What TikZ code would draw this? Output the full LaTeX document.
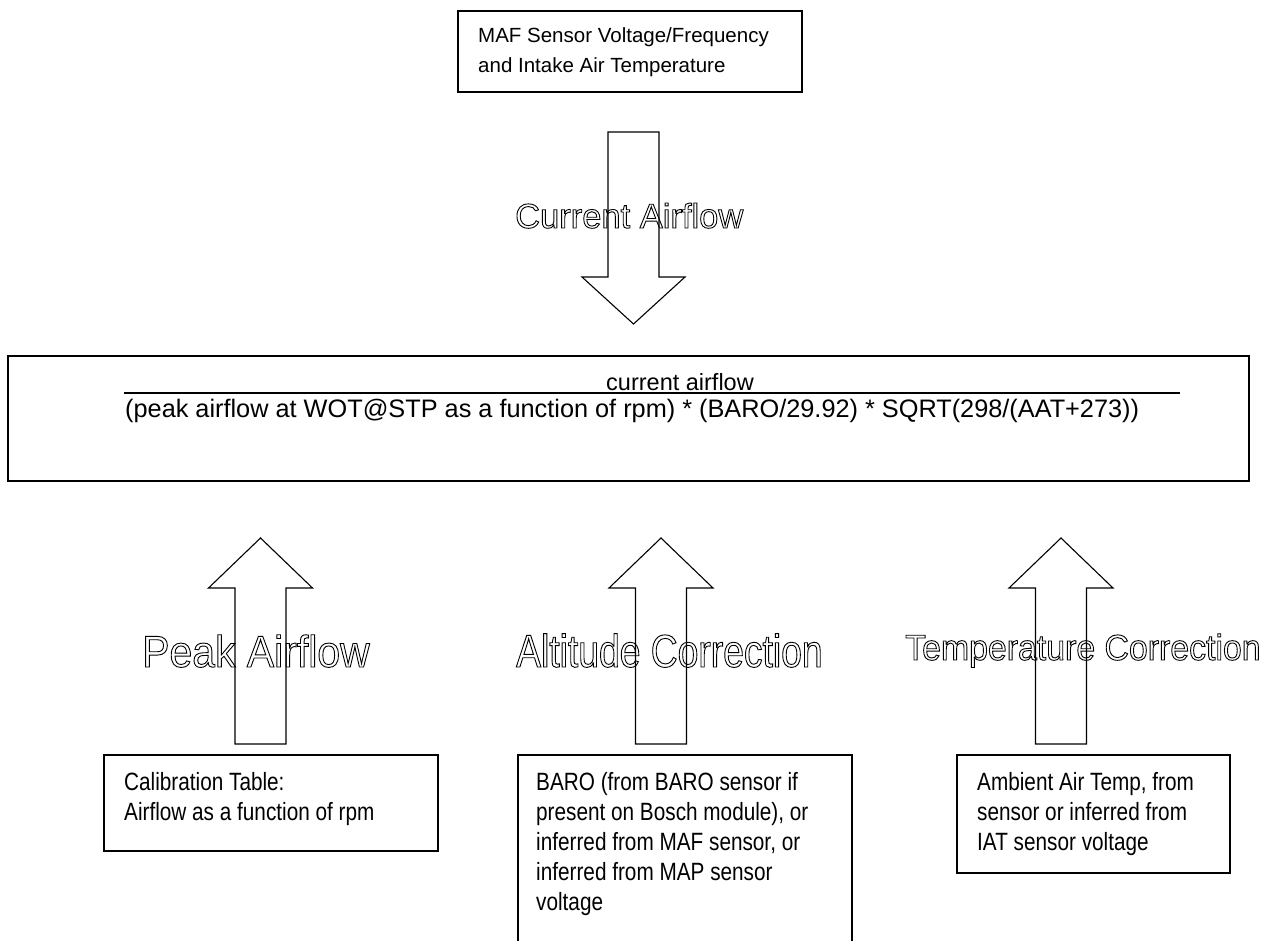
\documentclass[tikz,border=0pt]{standalone}
\usepackage{fontspec}
\setmainfont{Liberation Sans}
\newfontfamily\narrowfont{Liberation Sans}[FakeStretch=0.83]
% outlined (stroked) letters
\newcommand{\hollow}[1]{\special{pdf:literal direct 1 Tr 0.9 w}#1\special{pdf:literal direct 0 Tr}}

\tikzset{
  box/.style={draw, line width=1.6pt, inner sep=0pt},
  blockarrow/.style={draw, line width=1.1pt, line join=miter},
  boxtext/.style={anchor=north west, inner sep=0pt, align=left, font=\narrowfont\fontsize{25}{30}\selectfont},
  flowlabel/.style={inner sep=0pt, anchor=base west}
}

\begin{document}
\begin{tikzpicture}[x=1pt, y=-1pt]
    \useasboundingbox (0,0) rectangle (1274,941);

    % input from the sensor
    \node[box, anchor=north west, minimum width=344pt, minimum height=81pt] (maf) at (457,10) {};
    \node[anchor=north west, inner sep=0pt, align=left, font=\fontsize{20.5}{30}\selectfont] (maftext) at (478,27)
        {MAF Sensor Voltage/Frequency\\and Intake Air Temperature};

    \draw[blockarrow] (608,132) -- (659,132) -- (659,277) -- (685,277) -- (633.5,324)
        -- (582,277) -- (608,277) -- cycle;
    \node[flowlabel, font=\fontsize{34.5}{40}\selectfont] (curlbl) at (515,228) {\hollow{Current Airflow}};

    % the load calculation
    \node[box, anchor=north west, minimum width=1241pt, minimum height=125pt] (load) at (7,355) {};
    \node[anchor=base, inner sep=0pt, font=\fontsize{23.5}{28}\selectfont] (num) at (680,390) {current airflow};
    \draw[line width=2pt] (124,393) -- (1180,393);
    \node[anchor=base west, inner sep=0pt, font=\fontsize{25.3}{30}\selectfont] (den) at (125,417)
        {(peak airflow at WOT@STP as a function of rpm) * (BARO/29.92) * SQRT(298/(AAT+273))};

    % corrections
    \foreach \cx in {260.5, 661, 1061}
        \draw[blockarrow] (\cx-25.5,744) -- (\cx-25.5,588) -- (\cx-52,588) -- (\cx,538)
            -- (\cx+52,588) -- (\cx+25.5,588) -- (\cx+25.5,744) -- cycle;

    \node[flowlabel, font=\fontsize{44.5}{48}\selectfont\addfontfeatures{FakeStretch=0.92}] (peaklbl) at (142,667) {\hollow{Peak Airflow}};
    \node[flowlabel, font=\fontsize{46}{50}\selectfont\addfontfeatures{FakeStretch=0.81}] (altlbl) at (516,667) {\hollow{Altitude Correction}};
    \node[flowlabel, font=\fontsize{36}{40}\selectfont\addfontfeatures{FakeStretch=0.94}] (templbl) at (905,660) {\hollow{Temperature Correction}};

    \node[box, anchor=north west, minimum width=334pt, minimum height=96pt] (caltab) at (103,754) {};
    \node[boxtext] (caltext) at (124,772) {Calibration Table:\\Airflow as a function of rpm};

    \node[box, anchor=north west, minimum width=334pt, minimum height=250pt] (baro) at (517,754) {};
    \node[boxtext] (barotext) at (536,772) {BARO (from BARO sensor if\\present on Bosch module), or\\inferred from MAF sensor, or\\inferred from MAP sensor\\voltage};

    \node[box, anchor=north west, minimum width=273pt, minimum height=118pt] (aat) at (956,754) {};
    \node[boxtext] (aattext) at (977,772) {Ambient Air Temp, from\\sensor or inferred from\\IAT sensor voltage};

\end{tikzpicture}
\end{document}
